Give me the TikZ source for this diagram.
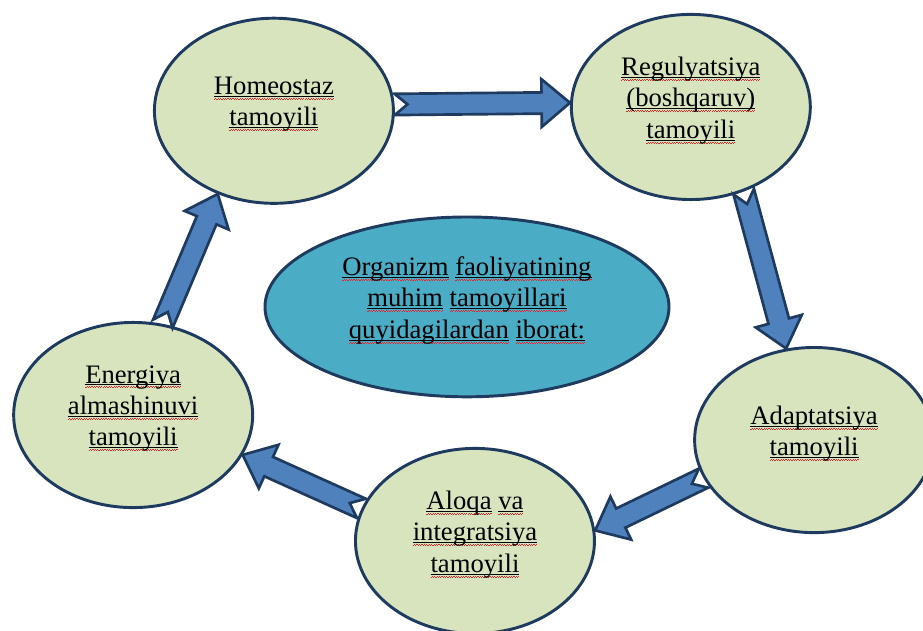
\documentclass[tikz,border=0pt]{standalone}
\usepackage{fontspec}
\setmainfont{Liberation Serif}
\usetikzlibrary{shapes.geometric, calc}

\definecolor{navy}{HTML}{1F3A5F}
\definecolor{leaf}{HTML}{D7E4BD}
\definecolor{lagoon}{HTML}{4BACC6}
\definecolor{steel}{HTML}{4F81BD}
\definecolor{squiggle}{HTML}{E8262B}

\newsavebox\sqbox
\newcommand{\sq}[1]{\sbox\sqbox{#1}\rlap{\rule[-1.6pt]{\wd\sqbox}{0.6pt}}\rlap{\hbox to \wd\sqbox{\color{squiggle}\xleaders\hbox{\rule[-3.9pt]{0.9pt}{0.7pt}\rule[-3.2pt]{0.9pt}{0.7pt}}\hfil}}\usebox\sqbox}

\newcommand{\blockarrow}[2]{%
\coordinate (ba-n) at ($(#1)!0.34cm!(#2)$);
\coordinate (ba-b) at ($(#2)!0.75cm!(#1)$);
\draw[flow] ($(#1)!0.28cm!90:(#2)$) -- ($(ba-b)!0.28cm!-90:(#1)$) -- ($(ba-b)!0.63cm!-90:(#1)$) -- (#2) -- ($(ba-b)!0.63cm!90:(#1)$) -- ($(ba-b)!0.28cm!90:(#1)$) -- ($(#1)!0.28cm!-90:(#2)$) -- (ba-n) -- cycle;}

\tikzset{
  principle/.style={ellipse, draw=navy, line width=2.2pt, fill=leaf, minimum width=6.3cm, minimum height=4.88cm},
  core/.style={principle, fill=lagoon, minimum width=10.65cm, minimum height=4.74cm},
  caption/.style={align=center, font=\fontsize{20}{23.6}\selectfont, yshift=0.17cm},
  flow/.style={draw=navy, line width=2pt, fill=steel, line join=miter}
}

\begin{document}
\begin{tikzpicture}
\useasboundingbox (0,0) rectangle (24.33,16.63);
\node[principle, label={[caption]center:\sq{Homeostaz}\\\sq{tamoyili}}] (h) at (7.22,13.71) {};
\node[principle, label={[caption]center:\sq{Regulyatsiya}\\\sq{(boshqaruv)}\\\sq{tamoyili}}] (r) at (18.21,13.81) {};
\node[principle, label={[caption]center:\sq{Adaptatsiya}\\\sq{tamoyili}}] (a) at (21.46,5.03) {};
\node[principle, label={[caption]center:\sq{Aloqa} \sq{va}\\\sq{integratsiya}\\\sq{tamoyili}}] (l) at (12.52,2.37) {};
\node[principle, label={[caption]center:\sq{Energiya}\\\sq{almashinuvi}\\\sq{tamoyili}}] (e) at (3.51,5.69) {};
\node[core, label={[caption]center:\sq{Organizm} \sq{faoliyatining}\\\sq{muhim} \sq{tamoyillari}\\\sq{quyidagilardan} \sq{iborat:}}] (c) at (12.31,8.54) {};
\blockarrow{h.3}{r.178}
\blockarrow{r.-58}{a.107}
\blockarrow{a.199}{l.5}
\blockarrow{l.164}{e.-20}
\blockarrow{e.72}{h.236}
\end{tikzpicture}
\end{document}
